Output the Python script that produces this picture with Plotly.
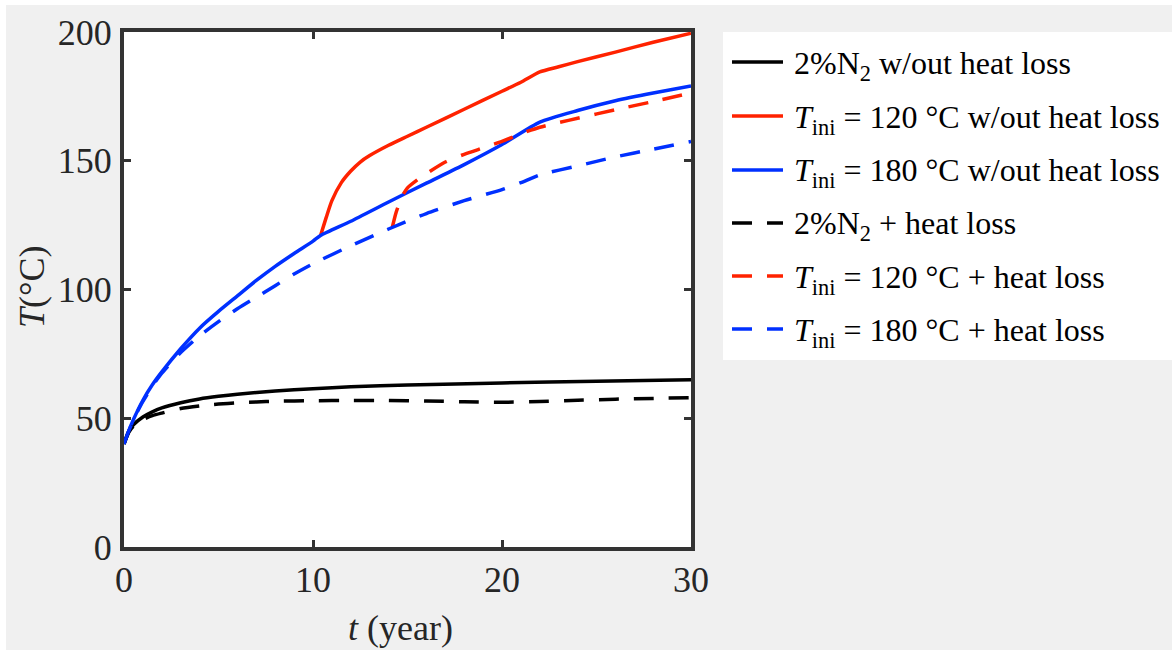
import plotly.graph_objects as go

# ---- data -------------------------------------------------------------
t_n2 = [0, 0.25, 0.5, 1, 1.5, 2, 3, 4, 5, 6, 8, 10, 12, 15, 20, 25, 30]
T_n2 = [40, 45, 47.5, 50.5, 52.5, 54, 56, 57.5, 58.5, 59.3, 60.6, 61.5, 62.2, 62.9, 63.7, 64.4, 65]

t_n2_hl = [0, 0.25, 0.5, 1, 1.5, 2, 3, 4, 5, 6, 7, 8, 10, 12, 14, 16, 18, 20, 22, 24, 26, 28, 30]
T_n2_hl = [40, 44.5, 47, 49.5, 51, 52, 53.8, 54.8, 55.5, 56, 56.3, 56.6, 56.8, 56.9, 56.9, 56.7, 56.4,
           56.2, 56.5, 57, 57.4, 57.7, 58]

t_120 = [10.4, 10.7, 11, 11.5, 12, 12.5, 13, 14, 15, 16, 18, 20, 21, 22, 23, 24, 26, 28, 30]
T_120 = [121, 128, 134.5, 141.5, 146, 149.5, 152, 156, 159.5, 163, 170, 177, 180.5, 184.5, 186.5,
         188.5, 192.2, 196, 199.5]

t_180 = [0, 0.25, 0.5, 1, 1.5, 2, 3, 4, 5, 6, 7, 8, 9, 10, 10.4, 12, 14, 16, 18, 20, 22, 24, 26, 28, 30]
T_180 = [40, 45, 49.5, 57, 63, 68, 77, 85, 91.5, 97.5, 103.5, 109, 114, 118.8, 121, 126.5, 134,
         141.3, 148.5, 156.3, 165, 169.5, 173.3, 176.3, 179]

t_120_hl = [14.2, 14.4, 14.7, 15, 15.5, 16, 17, 18, 19, 20, 21, 22, 23, 24, 26, 28, 30]
T_120_hl = [124.3, 130, 136, 139.5, 142.5, 145, 149.5, 152.5, 155, 157.5, 160.5, 163, 164.8,
            166.5, 169.8, 173, 176.3]

t_180_hl = [0, 0.25, 0.5, 1, 1.5, 2, 3, 4, 5, 6, 7, 8, 9, 10, 12, 14, 16, 18, 20, 21, 22, 24, 26, 28, 30]
T_180_hl = [40, 45, 49.5, 56.5, 62.5, 67.5, 75.5, 82, 87.5, 92.5, 97, 101.5, 106, 110, 117, 123.5,
            129.5, 134.5, 138.8, 141.5, 144.5, 148, 151.5, 154.5, 157.5]

x_ticks = [0, 10, 20, 30]
y_ticks = [0, 50, 100, 150, 200]

labels = [
    "2%N<sub>2</sub> w/out heat loss",
    "<i>T</i><sub>ini</sub> = 120 °C w/out heat loss",
    "<i>T</i><sub>ini</sub> = 180 °C w/out heat loss",
    "2%N<sub>2</sub> + heat loss",
    "<i>T</i><sub>ini</sub> = 120 °C + heat loss",
    "<i>T</i><sub>ini</sub> = 180 °C + heat loss",
]

# ---- styling ------------------------------------------------------------
BLACK = "#000000"
RED = "#ff2200"
BLUE = "#0030ff"
DASH = "20px,15px"
LW = 3.5
FONT = "Liberation Serif, Times New Roman, serif"
AXIS = "#333333"
TXT = "#262626"
BG = "#f0f0f0"

W, H = 1172, 650
ML, MR, MT, MB = 124, 481, 32, 103
PW, PH = W - ML - MR, H - MT - MB


def xp(px):
    return (px - ML) / PW


def yp(py):
    return 1 - (py - MT) / PH


series = [
    (t_n2, T_n2, BLACK, "solid"),
    (t_120, T_120, RED, "solid"),
    (t_180, T_180, BLUE, "solid"),
    (t_n2_hl, T_n2_hl, BLACK, DASH),
    (t_120_hl, T_120_hl, RED, DASH),
    (t_180_hl, T_180_hl, BLUE, DASH),
]

fig = go.Figure()
for (tx, ty, col, dash), name in zip(series, labels):
    fig.add_trace(go.Scatter(x=tx, y=ty, mode="lines", name=name, showlegend=False,
                             line=dict(color=col, width=LW, dash=dash, shape="spline",
                                       smoothing=0.6)))

shapes = [
    # white strips at the figure's top and left edges
    dict(type="rect", xref="paper", yref="paper", x0=xp(0), x1=xp(W), y0=yp(5), y1=yp(0),
         fillcolor="white", line=dict(width=0), layer="below"),
    dict(type="rect", xref="paper", yref="paper", x0=xp(0), x1=xp(6), y0=yp(H), y1=yp(0),
         fillcolor="white", line=dict(width=0), layer="below"),
    # legend box
    dict(type="rect", xref="paper", yref="paper", x0=xp(723), x1=xp(W), y0=yp(360), y1=yp(32),
         fillcolor="white", line=dict(width=0), layer="below"),
]

annotations = []
legend_y = [62, 116, 170, 223, 276, 329]
for (tx, ty, col, dash), name, ly in zip(series, labels, legend_y):
    shapes.append(dict(type="line", xref="paper", yref="paper", x0=xp(732), x1=xp(783),
                       y0=yp(ly), y1=yp(ly), line=dict(color=col, width=LW, dash=dash)))
    annotations.append(dict(text=name, xref="paper", yref="paper", x=xp(792), y=yp(ly + 3),
                            xanchor="left", yanchor="middle", showarrow=False,
                            font=dict(family=FONT, size=32, color="#000000")))

# axis titles
annotations.append(dict(text="<i>T</i>(°C)", xref="paper", yref="paper", x=xp(32), y=yp(287),
                        xanchor="center", yanchor="middle", textangle=-90, showarrow=False,
                        font=dict(family=FONT, size=36, color=TXT)))
annotations.append(dict(text="<i>t</i> (year)", xref="paper", yref="paper", x=xp(400), y=yp(628),
                        xanchor="center", yanchor="middle", showarrow=False,
                        font=dict(family=FONT, size=36, color=TXT)))

axis_common = dict(showline=True, linewidth=4, linecolor=AXIS, mirror="ticks", ticks="inside",
                   ticklen=7, tickwidth=3, tickcolor=AXIS, showgrid=False, zeroline=False,
                   tickfont=dict(family=FONT, size=36, color=TXT))

fig.update_layout(
    width=W, height=H,
    margin=dict(l=ML, r=MR, t=MT, b=MB),
    paper_bgcolor=BG, plot_bgcolor="white",
    xaxis=dict(range=[0, 30], tickvals=x_ticks, ticktext=[str(v) for v in x_ticks],
               ticklabelstandoff=-2, **axis_common),
    yaxis=dict(range=[0, 200], tickvals=y_ticks, ticktext=[str(v) for v in y_ticks],
               ticklabelstandoff=1, **axis_common),
    shapes=shapes,
    annotations=annotations,
    showlegend=False,
)

fig.write_html("out.html")
